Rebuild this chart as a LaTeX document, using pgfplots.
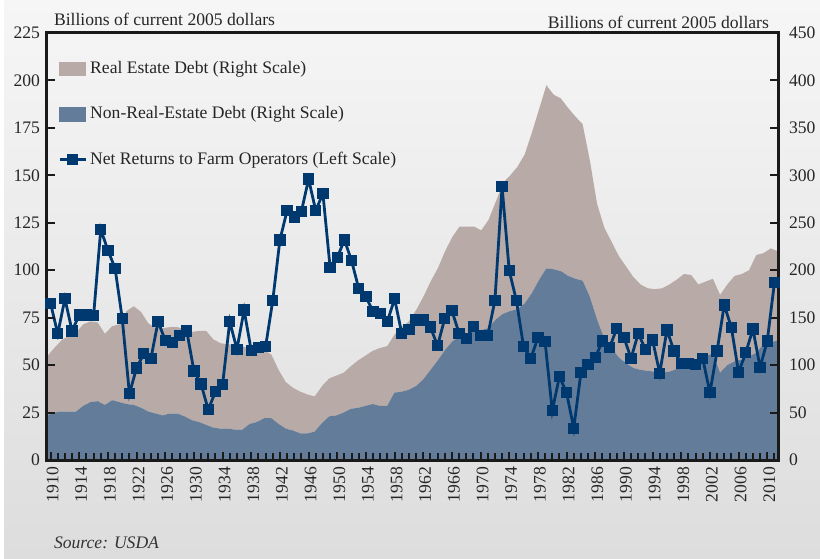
\documentclass[border=0pt]{standalone}
\usepackage{pgfplots}
\pgfplotsset{compat=1.18}
\usepackage{pgfplotstable}
\usepackage{fontspec}
\setmainfont{Liberation Serif}
\definecolor{tanc}{RGB}{184,170,166}
\definecolor{bluea}{RGB}{99,124,153}
\definecolor{navy}{RGB}{0,56,112}
\definecolor{axc}{RGB}{26,26,26}
\definecolor{bgtop}{RGB}{246,246,246}
\definecolor{bgbot}{RGB}{221,221,221}
\newcommand{\fs}{\fontsize{8.8}{10.5}\selectfont}
\pgfplotsset{
  lineleg/.style={legend image code/.code={\draw[##1, mark repeat=2, mark phase=2] plot coordinates {(0pt,0pt) (6.5pt,0pt) (13pt,0pt)};}},
  tanleg/.style={legend image code/.code={\fill[tanc] (0pt,-3.25pt) rectangle (13pt,3.25pt);}},
  blueleg/.style={legend image code/.code={\fill[bluea] (0pt,-3.5pt) rectangle (13pt,3.5pt);}},
}

\pgfplotstableread{
year nonre re
1910 47 62
1911 50 68
1912 51 75
1913 51 80
1914 51 83
1915 57 86
1916 61 85
1917 62 83
1918 58 75
1919 63 78
1920 61 82
1921 59 98
1922 58 104
1923 55 101
1924 51 93
1925 49 90
1926 47 92
1927 49 91
1928 49 91
1929 46 92
1930 42 93
1931 40 96
1932 37 99
1933 34 93
1934 33 90
1935 33 89
1936 32 89
1937 32 88
1938 38 79
1939 40 76
1940 44 72
1941 44 67
1942 38 57
1943 33 49
1944 31 45
1945 28 44
1946 28 41
1947 30 37
1948 39 39
1949 46 40
1950 47 42
1951 50 42
1952 54 45
1953 55 50
1954 57 53
1955 59 56
1956 57 61
1957 57 63
1958 71 61
1959 72 68
1960 74 72
1961 78 80
1962 85 87
1963 95 93
1964 105 97
1965 116 104
1966 125 110
1967 130 116
1968 133 113
1969 136 110
1970 137 105
1971 139 114
1972 148 124
1973 154 138
1974 157 143
1975 159 150
1976 165 157
1977 176 169
1978 190 180
1979 202 193
1980 201 184
1981 199 182
1982 194 177
1983 191 171
1984 189 165
1985 172 144
1986 148 122
1987 128 117
1988 118 112
1989 108 107
1990 102 102
1991 97 96
1992 95 90
1993 94 87
1994 93 87
1995 92 89
1996 93 92
1997 96 94
1998 99 97
1999 102 93
2000 106 79
2001 110 78
2002 112 79
2003 92 82
2004 100 85
2005 104 90
2006 106 90
2007 109 91
2008 113 103
2009 122 96
2010 124 99
2011 126 94
}\debt

\pgfplotstableread{
year net
1910 82.5
1911 66.5
1912 85
1913 68
1914 76.5
1915 76.5
1916 76
1917 121.5
1918 110.5
1919 101
1920 74.5
1921 35
1922 48.5
1923 56
1924 53.5
1925 73
1926 63
1927 62
1928 65.5
1929 68
1930 47
1931 40
1932 26.5
1933 36
1934 39.7
1935 73
1936 58.3
1937 79
1938 57.6
1939 59.2
1940 59.7
1941 84
1942 116
1943 131.4
1944 128
1945 131
1946 148
1947 131.4
1948 140.5
1949 101.5
1950 106.6
1951 116
1952 105
1953 90.3
1954 86
1955 78.2
1956 77.3
1957 73
1958 85
1959 66.7
1960 68.8
1961 73.8
1962 73.8
1963 70
1964 60.2
1965 74.6
1966 78.7
1967 66.7
1968 64.1
1969 70.3
1970 65.7
1971 65.7
1972 84
1973 144
1974 99.7
1975 84
1976 59.7
1977 53.4
1978 64.5
1979 62.3
1980 26
1981 43.9
1982 35.5
1983 16.7
1984 46
1985 50.2
1986 53.9
1987 62.7
1988 59.4
1989 69.2
1990 64.6
1991 53.6
1992 66.7
1993 58.3
1994 63.2
1995 45.7
1996 68.5
1997 57.4
1998 50.9
1999 50.9
2000 50.2
2001 53.4
2002 35.5
2003 57.4
2004 81.7
2005 69.7
2006 46.2
2007 56.5
2008 69
2009 48.8
2010 62.7
2011 93.4
}\net

\begin{document}
\begin{tikzpicture}
\fill[top color=bgtop, bottom color=bgbot] (2pt,0pt) rectangle (410pt,279pt);

% right axis: debt areas
\begin{axis}[
  at={(23.5pt,49pt)}, anchor=south west,
  scale only axis, width=365.5pt, height=213.5pt,
  xmin=1910, xmax=2011, ymin=0, ymax=450,
  hide x axis,
  axis y line*=right,
  axis line style={line width=1.5pt, color=axc, -},
  ytick={0,50,...,450},
  tick align=inside, major tick length=4pt,
  tick style={line width=1pt, color=axc},
  yticklabel style={font=\fs, color=black!85, xshift=2pt},
  /pgf/number format/assume math mode=true,
  stack plots=y, axis on top,
]
\addplot[fill=bluea, draw=none] table[x=year, y=nonre] {\debt} \closedcycle;
\addplot[fill=tanc, draw=none] table[x=year, y=re] {\debt} \closedcycle;
\end{axis}

% left axis: net returns
\begin{axis}[
  at={(23.5pt,49pt)}, anchor=south west,
  scale only axis, width=365.5pt, height=213.5pt,
  xmin=1909.5, xmax=2011.5, ymin=0, ymax=225,
  axis line style={line width=1.5pt, color=axc},
  xtick={1910,1914,...,2010},
  minor xtick={1910,...,2011},
  ytick={0,25,...,225},
  xtick pos=bottom, ytick pos=left,
  tick align=inside, major tick length=4pt, minor tick length=3.5pt,
  tick style={line width=1pt, color=axc},
  minor tick style={line width=1pt, color=axc},
  xticklabel style={rotate=90, anchor=east, font=\fs, color=black!85, yshift=-1pt},
  yticklabel style={font=\fs, color=black!85},
  /pgf/number format/1000 sep={},
  /pgf/number format/assume math mode=true,
  clip=false, axis on top,
  legend cell align=left,
  legend style={draw=none, fill=none, font=\fs, text=black!85,
    at={(rel axis cs:0,1)}, anchor=north west, xshift=5.5pt, yshift=-12.5pt,
    row sep=12pt, inner sep=0pt, nodes={inner sep=1.5pt}},
]
\addlegendimage{tanleg}
\addlegendentry{Real Estate Debt (Right Scale)}
\addlegendimage{blueleg}
\addlegendentry{Non-Real-Estate Debt (Right Scale)}
\addplot[color=navy, line width=1.4pt, mark=square*, mark size=2.6pt,
  mark options={solid, fill=navy, draw=navy, line width=0pt}, lineleg]
  table[x=year, y=net] {\net};
\addlegendentry{Net Returns to Farm Operators (Left Scale)}
\node[anchor=base west, font=\fs, text=black!85] at (rel axis cs:0,1) [yshift=3.5pt] {Billions of current 2005 dollars};
\node[anchor=base east, font=\fs, text=black!85] at (rel axis cs:1,1) [yshift=2.5pt, xshift=-1pt] {Billions of current 2005 dollars};
\end{axis}
\node[anchor=base west, font=\fs\itshape, text=black!80] at (23.5pt,5pt) {Source: USDA};
\pgfresetboundingbox
\useasboundingbox (0,0) rectangle (410pt,279pt);
\end{tikzpicture}
\end{document}
